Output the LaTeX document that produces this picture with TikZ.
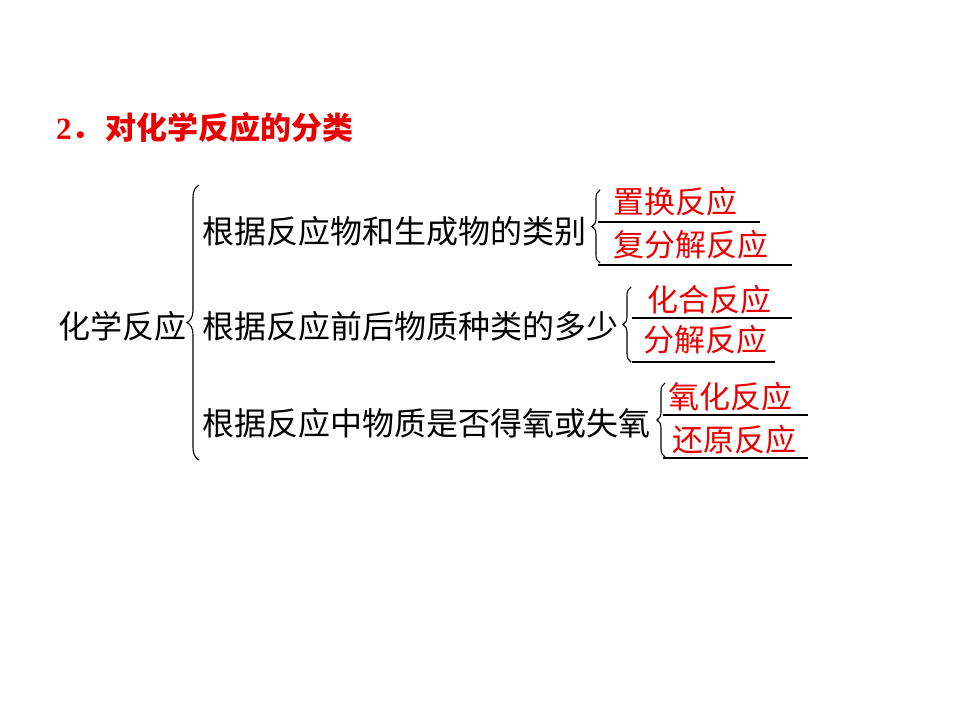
\documentclass[tikz,border=0pt]{standalone}
\usepackage{fontspec}
\setmainfont{Liberation Serif}
\newfontfamily\cjk{Noto Sans CJK SC}
\usetikzlibrary{decorations.pathreplacing}
\definecolor{tred}{RGB}{235,0,0}
\begin{document}
\begin{tikzpicture}[x=1pt,y=-1pt,
  txt/.style={anchor=west, inner sep=0pt, font=\cjk\fontsize{32}{32}\selectfont, text height=0.8em, text depth=0.05em, yshift=-7.5pt},
  ans/.style={txt, text=tred, font=\cjk\fontsize{31}{31}\selectfont},
  ttl/.style={anchor=west, inner sep=0pt, text=tred, font=\fontsize{31}{31}\selectfont\bfseries, text height=0.8em, text depth=0.05em, yshift=-7.5pt},
  ul/.style={line width=2.8pt},
  cbrace/.style={decorate, decoration={brace, amplitude=#1}, line width=1.1pt}]
\useasboundingbox (0,0) rectangle (960,720);

% title
\node[ttl] (title) at (56,128) {2{\cjk ．\hspace{3pt}对化学反应的分类}};

% root and categories
\node[txt] (root) at (58,327) {化学反应};
\node[txt] (c1) at (202,232) {根据反应物和生成物的类别};
\node[txt] (c2) at (202,327) {根据反应前后物质种类的多少};
\node[txt] (c3) at (202,424) {根据反应中物质是否得氧或失氧};

% big brace
\draw[cbrace=12pt] (199,460) -- (199,185);

% small braces
\draw[cbrace=8pt] (600,263) -- (600,190);
\draw[cbrace=8pt] (631,362) -- (631,287);
\draw[cbrace=8pt] (665,457) -- (665,383);

% answer lines
\draw[ul] (598,222) -- (760,222);
\draw[ul] (598,265) -- (792,265);
\draw[ul] (632,318) -- (792,318);
\draw[ul] (632,362) -- (775,362);
\draw[ul] (663,415) -- (808,415);
\draw[ul] (663,458) -- (808,458);

% answers
\node[ans] (a11) at (613,202) {置换反应};
\node[ans] (a12) at (613,245) {复分解反应};
\node[ans] (a21) at (647,300) {化合反应};
\node[ans] (a22) at (643,340) {分解反应};
\node[ans] (a31) at (668,397) {氧化反应};
\node[ans] (a32) at (672,440) {还原反应};
\end{tikzpicture}
\end{document}
